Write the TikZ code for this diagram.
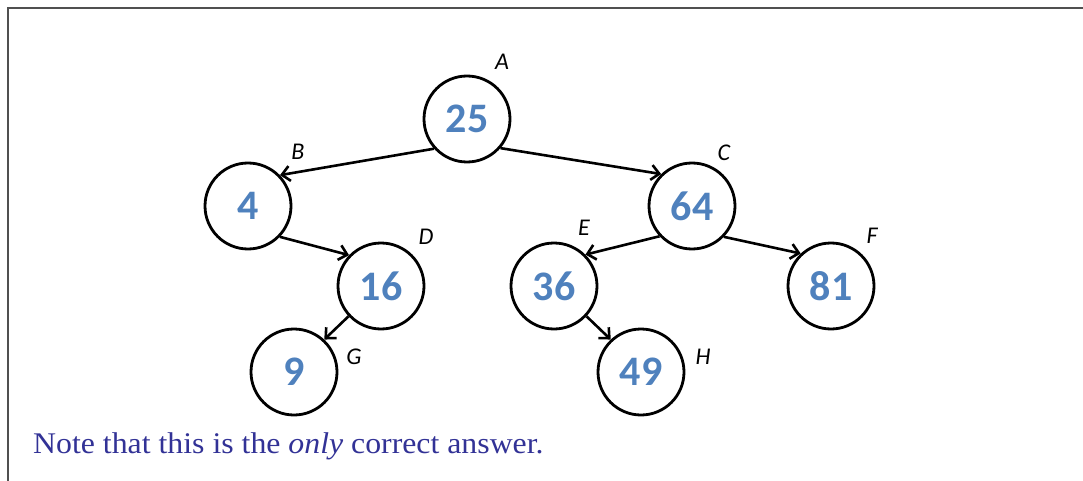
\documentclass[tikz,border=0pt]{standalone}
\usepackage{fontspec}
\setmainfont{Liberation Serif}
\newfontfamily\calib{Carlito}
\newfontfamily\notefont[FakeStretch=1.06]{Liberation Serif}
\usetikzlibrary{arrows.meta}
\definecolor{numblue}{RGB}{79,129,189}
\definecolor{noteblue}{RGB}{50,50,150}
\definecolor{framegray}{RGB}{80,80,80}
\tikzset{
  treenode/.style={circle, draw=black, line width=2.8pt, minimum size=86pt, inner sep=0pt,
    font=\calib\bfseries\fontsize{42}{42}\selectfont, text=numblue},
  lbl/.style={font=\calib\itshape\fontsize{24}{24}\selectfont, text=black, inner sep=0pt},
  edge/.style={line width=2.6pt, -{Straight Barb[length=8pt,width=15pt,line width=2.6pt]}}
}
\begin{document}
\begin{tikzpicture}[x=1pt,y=-1pt]
\useasboundingbox (0,0) rectangle (1083,481);
\draw[line width=1.6pt, framegray] (8,481) -- (8,8) -- (1083,8);
\node[treenode] (A) at (467,119) {25};
\node[treenode] (B) at (248,206) {4};
\node[treenode] (C) at (692,206) {64};
\node[treenode] (D) at (381,286) {16};
\node[treenode] (E) at (554,286) {36};
\node[treenode] (F) at (831,286) {81};
\node[treenode] (G) at (294,372) {9};
\node[treenode] (H) at (641,372) {49};
\node[lbl] (la) at (502,62) {A};
\node[lbl] (lb) at (298,152) {B};
\node[lbl] (lc) at (724,153) {C};
\node[lbl] (ld) at (426,237) {D};
\node[lbl] (le) at (584,228) {E};
\node[lbl] (lf) at (872,236) {F};
\node[lbl] (lg) at (354,357) {G};
\node[lbl] (lh) at (703,357) {H};
\draw[edge] (A.222) -- (B.44);
\draw[edge] (A.319) -- (C.134);
\draw[edge] (B.316) -- (D.136);
\draw[edge] (C.223) -- (E.45);
\draw[edge] (C.316) -- (F.133);
\draw[edge] (D.223) -- (G.47);
\draw[edge] (E.317) -- (H.133);
\node[anchor=base west, inner sep=0pt, text=noteblue, font=\notefont\fontsize{30}{30}\selectfont] (note) at (33,453) {Note that this is the \textit{only} correct answer.};
\end{tikzpicture}
\end{document}
